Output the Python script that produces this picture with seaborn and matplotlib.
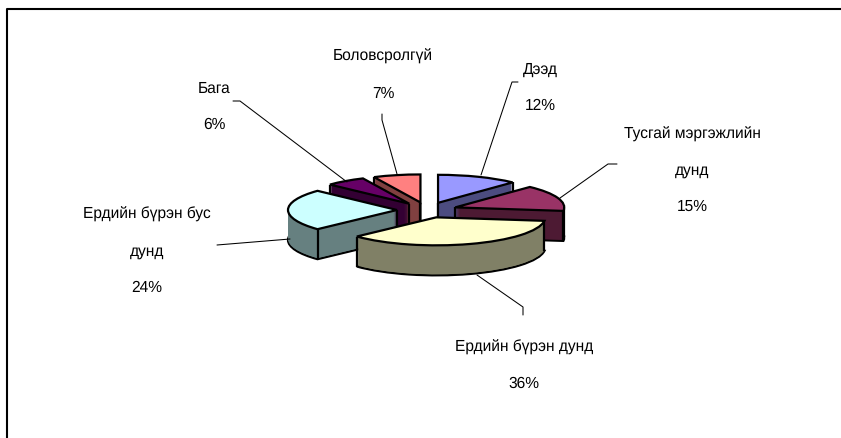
import math
import seaborn as sns
import matplotlib.pyplot as plt

labels = ["Дээд", "Тусгай мэргэжлийн\nдунд", "Ердийн бүрэн дунд",
          "Ердийн бүрэн бус\nдунд", "Бага", "Боловсролгүй"]
values = [12, 15, 36, 24, 6, 7]
top_colors = ["#9999FF", "#993366", "#FFFFCC", "#CCFFFF", "#660066", "#FF8080"]
side_colors = ["#4C4C80", "#4D1A33", "#808066", "#668080", "#330033", "#804040"]

# layout, all in picture pixels
W, H = 841, 438
SQUASH = 0.257  # pie is tilted, ry / rx
cx, cy = 427, 210
radius = 109
gap = 30
depth = 30
# back slices first
slice_z = [1, 2, 6, 5, 4, 3]
label_pos = [(540, 87.5), (692, 170.5), (524, 365.5), (147, 251), (214, 106.5), (383, 75)]
leaders = [
    [(481, 175), (512, 82), (518, 82)],
    [(560, 198), (608, 164), (617, 164)],
    [(477, 275), (523, 307), (523, 315)],
    [(290, 239), (217, 245)],
    [(347, 182), (240, 101), (233, 101)],
    [(397, 174), (382, 120), (382, 114)],
]


def py(y):
    # picture pixel row to data y
    return (H - y) / SQUASH


sns.set_theme(style="white")
plt.rcParams["font.family"] = ["Liberation Sans", "DejaVu Sans"]
plt.rcParams["text.hinting"] = "no_hinting"

fig = plt.figure(figsize=(W / 100, H / 100), dpi=100)
ax = fig.add_axes([0, 0, 1, 1])


def draw_pie(offset, colors, **wedge_kw):
    wedges, _ = ax.pie(values, colors=colors, explode=[gap] * len(values), radius=radius,
                       center=(cx, py(cy + offset)), startangle=90, counterclock=False,
                       wedgeprops=wedge_kw)
    return wedges


def show_edge(t1, t2):
    # which vertical edges of a slice can be seen from the front
    t1r, t2r = math.radians(t1), math.radians(t2)
    face1 = math.cos(t1r) > 0
    face2 = math.cos(t2r) < 0
    rim1 = math.sin(t1r + 0.01) < 0
    rim2 = math.sin(t2r - 0.01) < 0
    return face1 or face2, face1 or rim1, face2 or rim2


# bottom outline, then the stacked body
for w, z in zip(draw_pie(depth, side_colors, edgecolor="black", linewidth=1.6), slice_z):
    w.set_zorder(z)
for d in range(depth - 1, 0, -1):
    for w, z in zip(draw_pie(d, side_colors, linewidth=0), slice_z):
        w.set_zorder(z + 0.1)

tops = draw_pie(0, top_colors, edgecolor="black", linewidth=1.6)
for w, z in zip(tops, slice_z):
    w.set_zorder(z + 0.6)
    x0, y0 = w.center
    apex, rim1, rim2 = show_edge(w.theta1, w.theta2)
    xs = []
    ys = []
    if apex:
        xs.append(x0)
        ys.append(y0)
    if rim1:
        xs.append(x0 + radius * math.cos(math.radians(w.theta1)))
        ys.append(y0 + radius * math.sin(math.radians(w.theta1)))
    if rim2:
        xs.append(x0 + radius * math.cos(math.radians(w.theta2)))
        ys.append(y0 + radius * math.sin(math.radians(w.theta2)))
    # silhouette of the rim at far left / right
    for a in (0, 180, 360):
        if w.theta1 < a < w.theta2:
            xs.append(x0 + radius * math.cos(math.radians(a)))
            ys.append(y0)
    for x, y in zip(xs, ys):
        ax.vlines(x, y - depth / SQUASH, y, color="black", linewidth=1.6, zorder=z + 0.3)

for name, v, (tx, ty) in zip(labels, values, label_pos):
    ax.text(tx, py(ty), f"{name}\n{v}%", ha="center", va="center", fontsize=11.2,
            linespacing=2.85, color="black", multialignment="center", zorder=10)

for line in leaders:
    ax.plot([p[0] for p in line], [py(p[1]) for p in line], color="black", linewidth=0.75, zorder=9)

# chart border, cut by the picture on the right and at the bottom
ax.plot([7.5, 7.5, W], [py(H), py(8.5), py(8.5)], color="black", linewidth=1.5, zorder=10)

ax.set_aspect("auto")
ax.set_xlim(0, W)
ax.set_ylim(0, H / SQUASH)
ax.axis("off")

fig.savefig("out.png", dpi=100)
